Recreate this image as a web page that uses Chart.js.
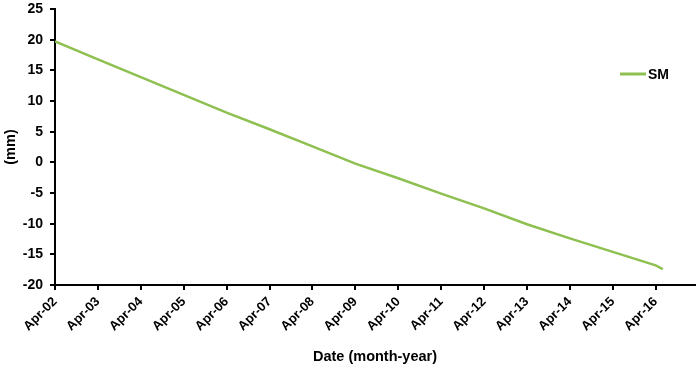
<!DOCTYPE html>
<html>
<head>
<meta charset="utf-8">
<script src="https://cdn.jsdelivr.net/npm/chart.js@4.4.0/dist/chart.umd.min.js"></script>
<style>
  html, body { margin: 0; padding: 0; background: #fff; }
</style>
</head>
<body>
<canvas id="chart" width="699" height="372"></canvas>
<script>
// month offsets from Apr-02, and SM values (mm)
const seriesName = 'SM';
const months = [0, 12, 24, 36, 48, 60, 72, 84, 96, 108, 120, 132, 144, 156, 168, 170];
const smValues = [19.7, 16.8, 13.9, 11.0, 8.1, 5.4, 2.6, -0.2, -2.6, -5.1, -7.5, -10.1, -12.4, -14.6, -16.8, -17.4];

const tickMonths = [0, 12, 24, 36, 48, 60, 72, 84, 96, 108, 120, 132, 144, 156, 168];
const tickLabels = ['Apr-02', 'Apr-03', 'Apr-04', 'Apr-05', 'Apr-06', 'Apr-07', 'Apr-08',
    'Apr-09', 'Apr-10', 'Apr-11', 'Apr-12', 'Apr-13', 'Apr-14', 'Apr-15', 'Apr-16'];

const lineColor = '#8DC050';
const fontFamily = '"Liberation Sans", Arial, sans-serif';

Chart.defaults.font.family = fontFamily;
Chart.defaults.color = '#000';

const smLegend = {
    id: 'smLegend',
    afterDraw(chart) {
        const ctx = chart.ctx;
        ctx.save();
        ctx.strokeStyle = lineColor;
        ctx.lineWidth = 3;
        ctx.beginPath();
        ctx.moveTo(620, 74);
        ctx.lineTo(646, 74);
        ctx.stroke();
        ctx.fillStyle = '#000';
        ctx.font = 'bold 14px ' + fontFamily;
        ctx.textBaseline = 'middle';
        ctx.fillText(seriesName, 648, 75);
        ctx.restore();
    }
};

new Chart(document.getElementById('chart').getContext('2d'), {
    type: 'line',
    data: {
        datasets: [{
            label: seriesName,
            data: months.map((m, i) => ({ x: m, y: smValues[i] })),
            borderColor: lineColor,
            borderWidth: 2.5,
            pointRadius: 0,
            tension: 0,
            fill: false
        }]
    },
    options: {
        responsive: false,
        animation: false,
        layout: { padding: { top: 9, right: 4, left: 0, bottom: 0 } },
        plugins: {
            legend: { display: false },
            tooltip: { enabled: false }
        },
        scales: {
            x: {
                type: 'linear',
                min: 0,
                max: 179,
                afterBuildTicks: s => { s.ticks = tickMonths.map(v => ({ value: v })); },
                afterFit: s => { s.height = 87; },
                ticks: {
                    callback: v => tickLabels[tickMonths.indexOf(v)] || '',
                    autoSkip: false,
                    minRotation: 45,
                    maxRotation: 45,
                    padding: 4,
                    color: '#000',
                    font: { size: 13, weight: 'bold' }
                },
                grid: { drawOnChartArea: false, tickLength: 5, color: '#000', lineWidth: 2 },
                border: { color: '#000', width: 2 },
                title: {
                    display: true,
                    text: 'Date (month-year)',
                    color: '#000',
                    font: { size: 14.5, weight: 'bold' },
                    padding: { top: 0, bottom: 6 }
                }
            },
            y: {
                min: -20,
                max: 25,
                afterFit: s => { s.width = 55; s.paddingTop = 0; s.paddingBottom = 0; },
                ticks: {
                    stepSize: 5,
                    padding: 7,
                    color: '#000',
                    font: { size: 14, weight: 'bold' }
                },
                grid: { drawOnChartArea: false, tickLength: 5, color: '#000', lineWidth: 2 },
                border: { color: '#000', width: 2 },
                title: {
                    display: true,
                    text: '(mm)',
                    color: '#000',
                    font: { size: 14.5, weight: 'bold' },
                    padding: { top: 2, bottom: 0 }
                }
            }
        }
    },
    plugins: [smLegend]
});
</script>
</body>
</html>
